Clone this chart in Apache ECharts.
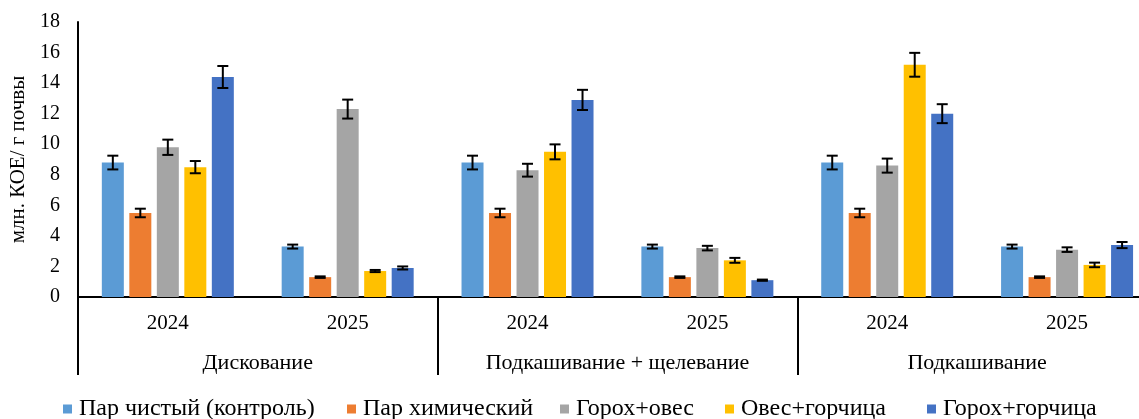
<!DOCTYPE html>
<html><head><meta charset="utf-8">
<script src="https://cdn.jsdelivr.net/npm/echarts@6/dist/echarts.min.js"></script>
<style>html,body{margin:0;padding:0;background:#fff;overflow:hidden;width:1139px;height:419px}#c{width:1157px;height:419px}</style>
</head><body><div id="c"></div>
<script>
const categories = ['2024', '2025', '2024', '2025', '2024', '2025'];
const groups = ['Дискование', 'Подкашивание + щелевание', 'Подкашивание'];
const yTicks = [0, 2, 4, 6, 8, 10, 12, 14, 16, 18];
const seriesNames = ['Пар чистый (контроль)', 'Пар химический', 'Горох+овес', 'Овес+горчица', 'Горох+горчица'];
const parChistyi = [8.8, 3.3, 8.8, 3.3, 8.8, 3.3];
const parChistyiErr = [0.45, 0.13, 0.45, 0.13, 0.45, 0.13];
const parKhim = [5.5, 1.3, 5.5, 1.3, 5.5, 1.3];
const parKhimErr = [0.28, 0.05, 0.28, 0.05, 0.28, 0.05];
const gorokhOves = [9.8, 12.3, 8.3, 3.2, 8.6, 3.1];
const gorokhOvesErr = [0.5, 0.62, 0.42, 0.15, 0.46, 0.15];
const ovesGorch = [8.5, 1.7, 9.5, 2.4, 15.2, 2.1];
const ovesGorchErr = [0.4, 0.07, 0.49, 0.16, 0.78, 0.15];
const gorokhGorch = [14.4, 1.9, 12.9, 1.1, 12.0, 3.4];
const gorokhGorchErr = [0.72, 0.1, 0.66, 0.04, 0.62, 0.2];

const values = [parChistyi, parKhim, gorokhOves, ovesGorch, gorokhGorch];
const errors = [parChistyiErr, parKhimErr, gorokhOvesErr, ovesGorchErr, gorokhGorchErr];
const colors = ['#5B9BD5', '#ED7D31', '#A5A5A5', '#FFC000', '#4472C4'];
const legendLefts = [63, 347, 560, 725, 927];

const FONT = 'Liberation Serif';
const BAR_W = 22, BAR_GAP = 0.25;
const pitch = BAR_W * (1 + BAR_GAP);
const n = values.length;

const series = [];
values.forEach((vals, i) => {
  series.push({
    name: seriesNames[i], type: 'bar', xAxisIndex: 0, yAxisIndex: 0,
    data: vals, barWidth: BAR_W, barGap: (BAR_GAP * 100) + '%',
    itemStyle: { color: colors[i] }, z: 2
  });
});
values.forEach((vals, i) => {
  const offset = (i - (n - 1) / 2) * pitch;
  series.push({
    name: 'err' + i, type: 'custom', xAxisIndex: 0, yAxisIndex: 0, z: 5,
    data: vals.map((v, k) => [k, v - errors[i][k], v + errors[i][k]]),
    renderItem: function (params, api) {
      const x = api.value(0);
      const pLo = api.coord([x, api.value(1)]);
      const pHi = api.coord([x, api.value(2)]);
      const cx = pLo[0] + offset;
      const hw = 5.5;
      const st = { stroke: '#000', lineWidth: 2 };
      return { type: 'group', children: [
        { type: 'line', shape: { x1: cx, y1: pLo[1], x2: cx, y2: pHi[1] }, style: st },
        { type: 'line', shape: { x1: cx - hw, y1: pLo[1], x2: cx + hw, y2: pLo[1] }, style: st },
        { type: 'line', shape: { x1: cx - hw, y1: pHi[1], x2: cx + hw, y2: pHi[1] }, style: st }
      ]};
    }
  });
});

const legends = seriesNames.map((nm, i) => ({
  data: [nm], left: legendLefts[i], top: 397, icon: 'rect', itemWidth: 9, itemHeight: 9,
  padding: 0, textStyle: { fontFamily: FONT, fontSize: 24, color: '#000', padding: [0, 0, 0, 2] }
}));

const chart = echarts.init(document.getElementById('c'), null, { renderer: 'canvas' });
chart.setOption({
  animation: false,
  backgroundColor: '#fff',
  grid: { left: 77, top: 22, right: 0, height: 275, containLabel: false },
  legend: legends,
  xAxis: [
    {
      type: 'category', data: categories, position: 'bottom',
      axisLine: { show: true, lineStyle: { color: '#000', width: 2 } },
      axisTick: { show: false },
      axisLabel: { interval: 0, margin: 16, fontFamily: FONT, fontSize: 21, color: '#000' }
    },
    {
      type: 'category', data: groups, position: 'bottom', gridIndex: 0,
      axisLine: { show: false },
      axisTick: { show: true, interval: 0, length: 78, lineStyle: { color: '#000', width: 2 } },
      axisLabel: { interval: 0, margin: 55, fontFamily: FONT, fontSize: 22, color: '#000' }
    }
  ],
  yAxis: {
    type: 'value', min: yTicks[0], max: yTicks[yTicks.length - 1], interval: yTicks[1] - yTicks[0],
    name: 'млн. КОЕ/ г почвы', nameLocation: 'middle', nameGap: 30, nameRotate: 90,
    nameTextStyle: { fontFamily: FONT, fontSize: 21, color: '#000' },
    axisLine: { show: true, lineStyle: { color: '#000', width: 2 } },
    axisTick: { show: false },
    splitLine: { show: false },
    axisLabel: { margin: 18, fontFamily: FONT, fontSize: 20, color: '#000' }
  },
  series: series
});
</script></body></html>
